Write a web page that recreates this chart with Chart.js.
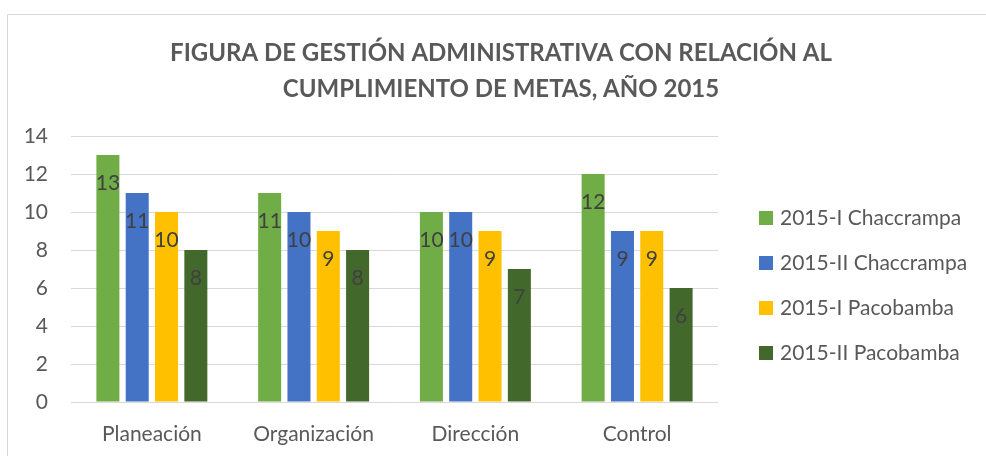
<!DOCTYPE html>
<html>
<head>
<meta charset="utf-8">
<script src="https://cdn.jsdelivr.net/npm/chart.js@4"></script>
<style>
  html, body { margin: 0; padding: 0; background: #fff; }
  #wrap { position: relative; width: 986px; height: 456px; overflow: hidden; }
  #frame { position: absolute; left: 7px; top: 14px; width: 1200px; height: 900px; border: 1px solid #d9d9d9; pointer-events: none; }
</style>
</head>
<body>
<div id="wrap">
  <canvas id="chart" width="986" height="456"></canvas>
  <div id="frame"></div>
</div>
<script>
// datos
const categorias = ['Planeación', 'Organización', 'Dirección', 'Control'];
const series = ['2015-I Chaccrampa', '2015-II Chaccrampa', '2015-I Pacobamba', '2015-II Pacobamba'];
const chaccrampaI = [13, 11, 10, 12];
const chaccrampaII = [11, 10, 10, 9];
const pacobambaI = [10, 9, 9, 9];
const pacobambaII = [8, 8, 7, 6];
const yTicks = [0, 2, 4, 6, 8, 10, 12, 14];

const colores = ['#70AD47', '#4472C4', '#FFC000', '#43682B'];
const FONT = 'Lato, "Open Sans", sans-serif';

// etiquetas de valor dentro de cada barra
const etiquetas = {
  id: 'etiquetas',
  afterDatasetsDraw(chart) {
    const ctx = chart.ctx;
    ctx.save();
    ctx.font = '21px ' + FONT;
    ctx.fillStyle = '#404040';
    ctx.textAlign = 'center';
    ctx.textBaseline = 'middle';
    chart.data.datasets.forEach((ds, i) => {
      chart.getDatasetMeta(i).data.forEach((bar, j) => {
        ctx.fillText(String(ds.data[j]), bar.x, bar.y + 28);
      });
    });
    ctx.restore();
  }
};

// leyenda a la derecha
const leyenda = {
  id: 'leyenda',
  afterDraw(chart) {
    const ctx = chart.ctx;
    ctx.save();
    ctx.font = '21px ' + FONT;
    ctx.textBaseline = 'middle';
    ctx.textAlign = 'left';
    chart.data.datasets.forEach((ds, i) => {
      const y = 218 + i * 45;
      ctx.fillStyle = ds.backgroundColor;
      ctx.fillRect(759, y - 7, 14, 14);
      ctx.fillStyle = '#595959';
      ctx.fillText(ds.label, 780, y);
    });
    ctx.restore();
  }
};

const datos = [chaccrampaI, chaccrampaII, pacobambaI, pacobambaII];

new Chart(document.getElementById('chart').getContext('2d'), {
  type: 'bar',
  data: {
    labels: categorias,
    datasets: series.map((s, i) => ({
      label: s,
      data: datos[i],
      backgroundColor: colores[i],
      categoryPercentage: 0.725,
      barPercentage: 0.785
    }))
  },
  options: {
    responsive: false,
    animation: false,
    layout: { padding: { left: 16, right: 0, top: 0, bottom: 0 } },
    plugins: {
      legend: { display: false },
      tooltip: { enabled: false },
      title: {
        display: true,
        text: ['FIGURA DE GESTIÓN ADMINISTRATIVA CON RELACIÓN AL', 'CUMPLIMIENTO DE METAS, AÑO 2015'],
        color: '#595959',
        font: { family: FONT, size: 24, weight: 'bold', lineHeight: 1.5 },
        padding: { top: 35, bottom: 29 }
      }
    },
    scales: {
      x: {
        grid: { display: false, drawTicks: false },
        border: { display: false },
        ticks: { color: '#595959', font: { family: FONT, size: 21 }, padding: 20 },
        afterFit: (scale) => { scale.height = 54; }
      },
      y: {
        min: 0,
        max: 14,
        afterBuildTicks: (scale) => { scale.ticks = yTicks.map(v => ({ value: v })); },
        grid: { color: '#d9d9d9', drawTicks: false },
        border: { display: false },
        ticks: { color: '#595959', font: { family: FONT, size: 21 }, padding: 23 },
        afterFit: (scale) => { scale.width = 55; }
      },
      // espacio reservado para la leyenda
      hueco: {
        position: 'right',
        display: true,
        grid: { display: false, drawTicks: false },
        border: { display: false },
        ticks: { display: false },
        afterFit: (scale) => { scale.width = 268; }
      }
    }
  },
  plugins: [etiquetas, leyenda]
});
</script>
</body>
</html>
